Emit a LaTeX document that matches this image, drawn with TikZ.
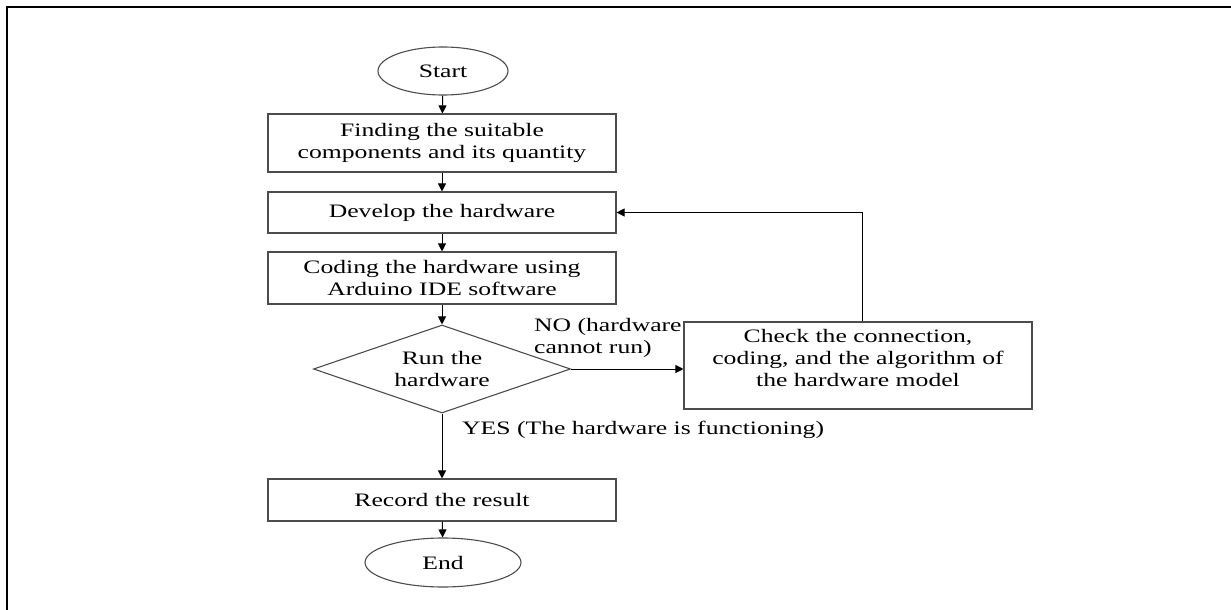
\documentclass[tikz,border=0pt]{standalone}
\usepackage{fontspec}
\setmainfont{Liberation Serif}[FakeStretch=1.35]
\usetikzlibrary{shapes.geometric,arrows.meta}
\begin{document}
\begin{tikzpicture}[x=1pt,y=-1pt,
  txt/.style={font=\fontsize{19}{22}\selectfont, text=black},
  procbox/.style={txt, draw=black!70, line width=1.1pt, rectangle, minimum width=348pt, inner sep=0pt, align=center},
  term/.style={txt, draw=black!70, line width=1.1pt, ellipse, inner sep=0pt},
  decide/.style={txt, draw=black!70, line width=1.1pt, diamond, aspect=2.92, minimum width=257pt, minimum height=88pt, inner sep=0pt, align=center},
  lbl/.style={txt, inner sep=0pt, align=left},
  arr/.style={draw=black, line width=1pt, -{Triangle[length=8pt,width=8pt]}}
]
\useasboundingbox (0,0) rectangle (1231,610);
\draw[line width=2.6pt, black] (7,610) -- (7,7) -- (1231,7);

\node[term, minimum width=130pt, minimum height=48pt] (start) at (443,71) {Start};
\node[procbox, minimum height=58pt] (find) at (442,143) {Finding the suitable\\components and its quantity};
\node[procbox, minimum height=41pt] (dev) at (442,212.5) {Develop the hardware};
\node[procbox, minimum height=52pt] (code) at (442,278) {Coding the hardware using\\Arduino IDE software};
\node[decide] (run) at (442,369) {Run the\\hardware};
\node[procbox, minimum width=348pt, minimum height=87pt, text depth=15pt] (check) at (858,365.5) {Check the connection,\\coding, and the algorithm of\\the hardware model};
\node[procbox, minimum height=42pt] (rec) at (442,500) {Record the result};
\node[term, minimum width=156pt, minimum height=49pt] (end) at (443,562.5) {End};

\node[lbl, anchor=north west] (no) at (534,318) {NO (hardware\\cannot run)};
\node[lbl, anchor=west] (yes) at (462,430) {YES (The hardware is functioning)};

\draw[arr] (start) -- (find);
\draw[arr] (find) -- (dev);
\draw[arr] (dev) -- (code);
\draw[arr] (code) -- (run);
\draw[arr] (run.east) -- (run.east -| check.west);
\draw[arr] ([xshift=4pt]check.north) |- (dev.east);
\draw[arr] (run) -- (rec);
\draw[arr] (rec) -- (end);
\end{tikzpicture}
\end{document}
